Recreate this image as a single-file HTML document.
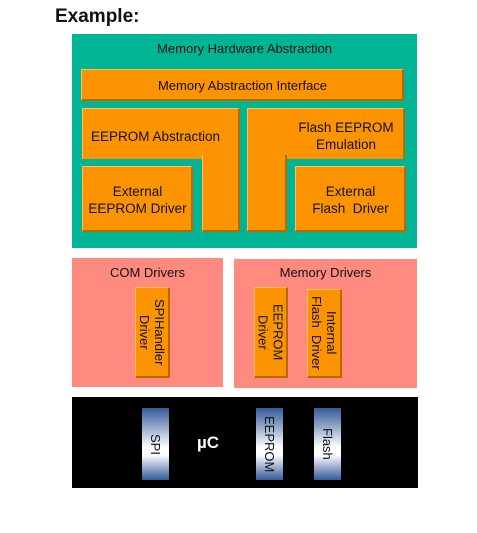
<!DOCTYPE html>
<html><head><style>
body{margin:0;width:477px;height:533px;background:#fff;position:relative;font-family:"Liberation Sans",sans-serif;overflow:hidden}
div{position:absolute;box-sizing:border-box}
.o{background:#fb9400;border-right:2px solid #b86a00;border-bottom:2px solid #b86a00;border-top:1px solid #ffc060;border-left:1px solid #ffc060}
.t{font-size:13px;color:#111;text-align:center;line-height:17px}
.v{writing-mode:vertical-rl;font-size:13px;line-height:15px;color:#111;display:flex;align-items:center;justify-content:center;text-align:center}
.b{background:linear-gradient(#34599a,#fff 55%,#fff 65%,#34599a);color:#111}
</style></head><body>
<div style="left:55px;top:6px;font-size:19px;font-weight:bold;color:#111">Example:</div>
<div style="left:72px;top:34px;width:345px;height:214px;background:#00b596"></div>
<div class="t" style="left:72px;top:40px;width:345px">Memory Hardware Abstraction</div>
<div class="o" style="left:81px;top:69px;width:323px;height:32px"></div>
<div class="t" style="left:81px;top:77px;width:323px">Memory Abstraction Interface</div>
<div class="o" style="left:82px;top:108px;width:158px;height:51px;border-bottom:none"></div>
<div class="o" style="left:202px;top:155px;width:38px;height:77px;border-top:none"></div>
<div style="left:203px;top:150px;width:35px;height:10px;background:#fb9400"></div>
<div class="t" style="left:91px;top:128px;font-size:13.5px">EEPROM Abstraction</div>
<div class="o" style="left:82px;top:166px;width:111px;height:66px"></div>
<div class="t" style="left:82px;top:183px;width:111px;font-size:13.5px">External<br>EEPROM Driver</div>
<div class="o" style="left:247px;top:108px;width:158px;height:51px;border-bottom:none"></div>
<div class="o" style="left:247px;top:155px;width:40px;height:77px;border-top:none"></div>
<div style="left:248px;top:150px;width:37px;height:10px;background:#fb9400"></div>
<div class="t" style="left:287px;top:119px;width:118px;font-size:13.5px">Flash EEPROM<br>Emulation</div>
<div class="o" style="left:295px;top:166px;width:111px;height:66px"></div>
<div class="t" style="left:295px;top:183px;width:111px;font-size:13.5px">External<br>Flash&nbsp; Driver</div>
<div style="left:72px;top:258px;width:151px;height:129px;background:#ff8a80"></div>
<div class="t" style="left:72px;top:264px;width:151px">COM Drivers</div>
<div style="left:234px;top:259px;width:183px;height:129px;background:#ff8a80"></div>
<div class="t" style="left:234px;top:264px;width:183px">Memory Drivers</div>
<div class="o v" style="left:135px;top:287px;width:35px;height:91px">SPIHandler<br>Driver</div>
<div class="o v" style="left:254px;top:287px;width:34px;height:91px">EEPROM<br>Driver</div>
<div class="o v" style="left:307px;top:289px;width:35px;height:89px">Internal<br>Flash&nbsp; Driver</div>
<div style="left:72px;top:397px;width:346px;height:91px;background:#000"></div>
<div class="v b" style="left:142px;top:408px;width:27px;height:72px">SPI</div>
<div class="v b" style="left:256px;top:408px;width:27px;height:72px">EEPROM</div>
<div class="v b" style="left:314px;top:408px;width:27px;height:72px">Flash</div>
<div style="left:197px;top:433px;color:#fff;font-weight:bold;font-size:17px">µC</div>
</body></html>
